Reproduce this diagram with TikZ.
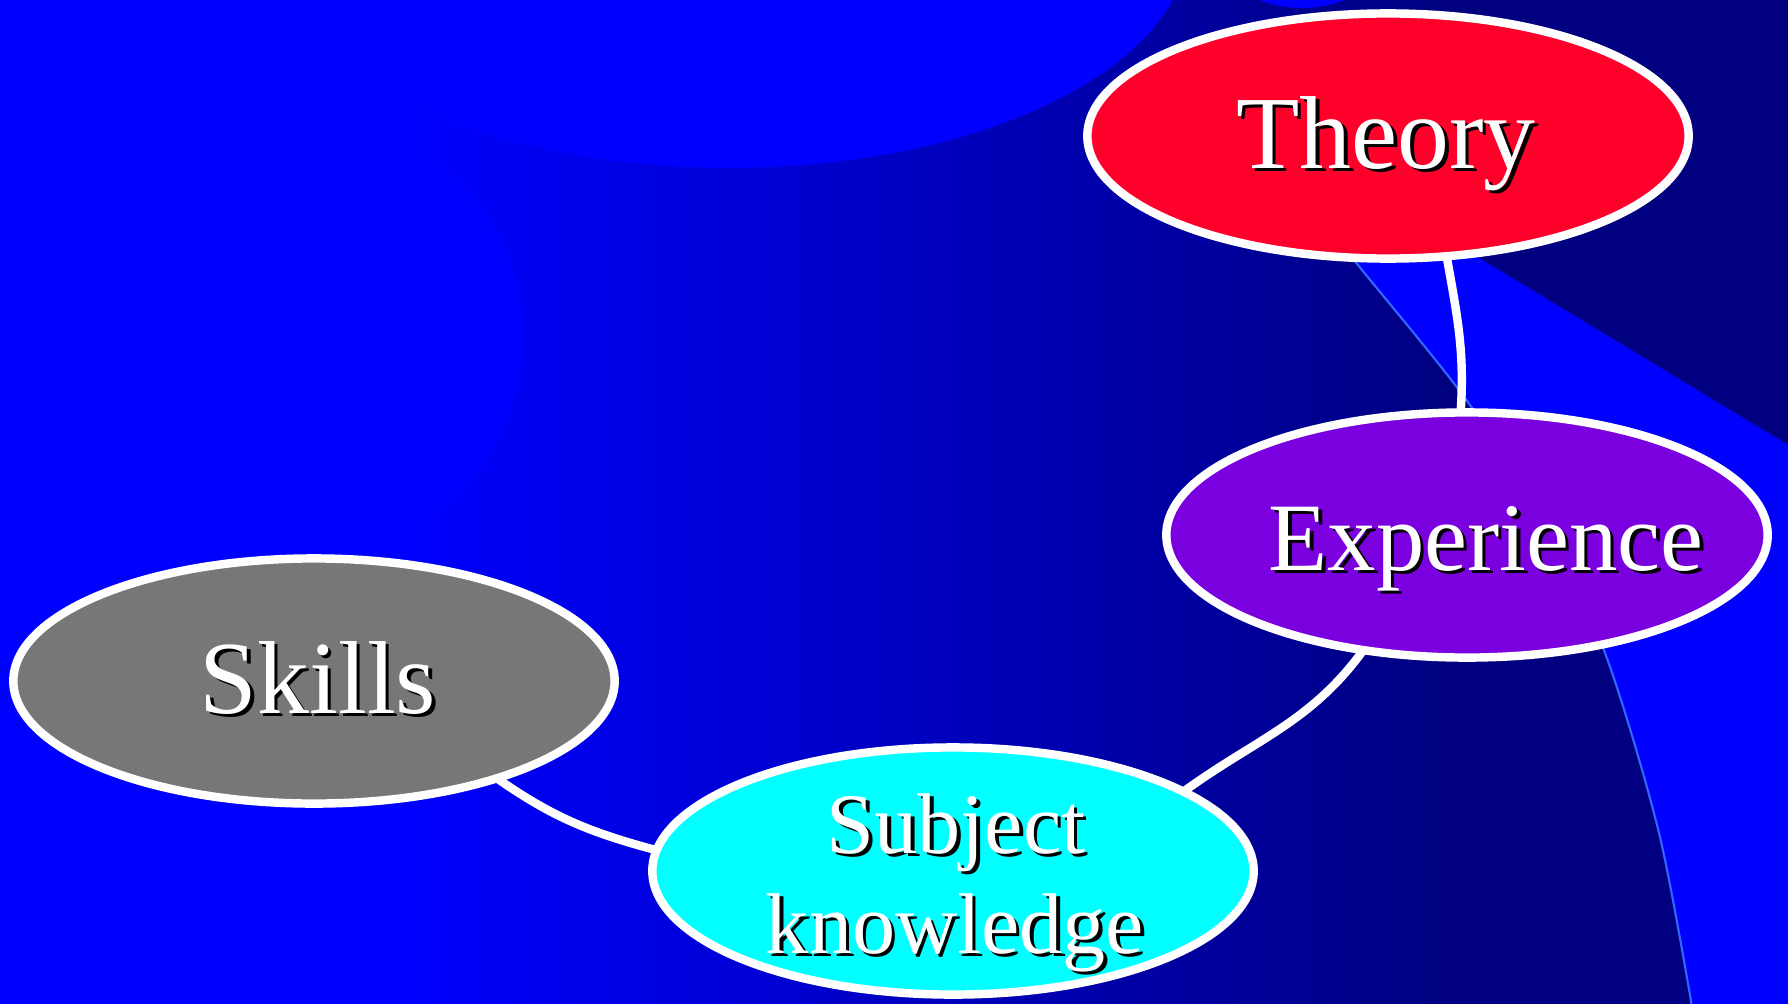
\documentclass[tikz,border=0pt]{standalone}
\usepackage{fontspec}
\setmainfont{Liberation Serif}
\usetikzlibrary{shapes.geometric,positioning,calc}

\definecolor{deepblue}{RGB}{0,0,255}
\definecolor{navyblue}{RGB}{0,0,128}
\definecolor{edgeblue}{RGB}{51,102,255}
\definecolor{theoryred}{RGB}{255,0,43}
\definecolor{exppurple}{RGB}{122,0,224}
\definecolor{skillgray}{RGB}{119,119,119}
\definecolor{subjcyan}{RGB}{0,255,255}

% blue on the left, fading to navy on the right
\pgfdeclarehorizontalshading{bgfade}{100bp}{color(0bp)=(deepblue); color(36.2bp)=(deepblue);
  color(65.5bp)=(navyblue); color(100bp)=(navyblue)}

% white text with a black drop shadow
\newcommand{\shadowed}[1]{\rlap{\kern1pt\raisebox{-1pt}{\color{black}#1}}#1}

\tikzset{
  bubble/.style={ellipse, draw=white, line width=2.4pt, inner sep=0pt, outer sep=0pt,
    minimum width=6.01cm, minimum height=2.45cm},
  lbl/.style={text=white, anchor=base, inner sep=0pt},
  link/.style={white, line width=2.4pt},
}

\begin{document}
\begin{tikzpicture}[x=0.01cm,y=0.01cm]
\useasboundingbox (0,0) rectangle (1788,-1003);

% background
\shade[shading=bgfade] (0,10) rectangle (1788,-1013);
\fill[deepblue] (729,60) ellipse [x radius=460, y radius=228];
\fill[deepblue] (306,-337) circle (218);
\fill[deepblue] (1302,60) ellipse [x radius=90, y radius=68];
\fill[deepblue] plot[smooth] coordinates {(1298,-190) (1358,-265) (1470,-405) (1545,-530) (1605,-653) (1659,-833) (1693,-1013)}
  -- (1798,-1013) -- (1798,-451) -- (1400,-210) -- cycle;
\draw[edgeblue, line width=0.6pt] plot[smooth] coordinates {(1298,-190) (1358,-265) (1470,-405) (1545,-530) (1605,-653) (1659,-833) (1693,-1013)};

% ellipses
\node[bubble, fill=theoryred] (theory) at (1388,-136) {};
\node[bubble, fill=exppurple] (experience) at (1467,-535) {};
\node[bubble, fill=skillgray] (skills) at (314,-681) {};
\node[bubble, fill=subjcyan, minimum height=2.47cm] (subject) at (953,-871) {};

% links
\draw[link] (theory.-64) to[out=-80, in=86] (experience.93);
\draw[link] (experience.-132) to[out=-126, in=36] (subject.19);
\draw[link] (skills.-28) to[out=-35, in=165] (subject.176);

% labels
\node[lbl, font=\fontsize{29.5}{35}\selectfont] (theorylbl) at (1386,-168) {\shadowed{Theory}};
\node[lbl, font=\fontsize{27.5}{33}\selectfont] (explbl) at (1486,-570) {\shadowed{Experience}};
\node[lbl, font=\fontsize{29.5}{35}\selectfont] (skillslbl) at (318,-713) {\shadowed{Skills}};
\node[lbl, font=\fontsize{24.5}{29}\selectfont] (subjlbl) at (956,-853) {\shadowed{Subject}};
\node[lbl, font=\fontsize{24.5}{29}\selectfont] (knowlbl) at (955,-953) {\shadowed{knowledge}};
\end{tikzpicture}
\end{document}
